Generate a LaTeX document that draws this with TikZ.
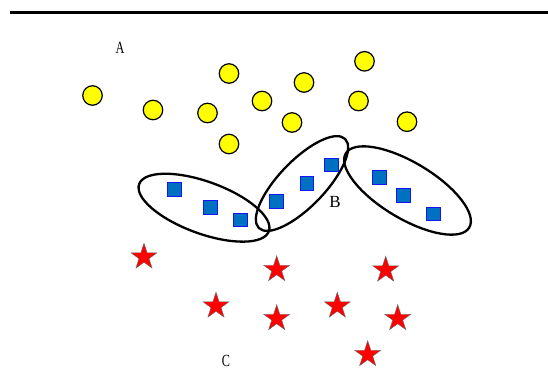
\documentclass[tikz,border=0pt]{standalone}
\usepackage{fontspec}
\setmainfont{Liberation Serif}
\usetikzlibrary{shapes.geometric}
\definecolor{sqfill}{RGB}{0,112,192}
\definecolor{sqedge}{RGB}{20,20,255}
\definecolor{starred}{RGB}{255,0,0}
\definecolor{dotyellow}{RGB}{255,255,0}
\begin{document}
\begin{tikzpicture}[x=1pt,y=-1pt,
  dot/.style={circle,draw=black,line width=1.2pt,fill=dotyellow,minimum size=19.5pt,inner sep=0},
  sq/.style={rectangle,draw=sqedge,line width=1pt,fill=sqfill,minimum size=13.5pt,inner sep=0},
  st/.style={star,star points=5,star point ratio=2.618,draw=black!60,line width=0.4pt,fill=starred,minimum size=27.5pt,inner sep=0},
  grp/.style={ellipse,draw=black,line width=2.3pt,inner sep=0},
  lbl/.style={font=\fontsize{17}{17}\selectfont,inner sep=0}]
\useasboundingbox (0,0) rectangle (548,369);
% top rule
\coordinate (l1) at (10,12.7);
\coordinate (l2) at (548,12.7);
\draw[line width=2.6pt] (l1) -- (l2);
% labels
\node[lbl] (la) at (120,48) {\scalebox{0.72}[1]{A}};
\node[lbl] (lb) at (335,202) {B};
\node[lbl] (lc) at (226,361) {\scalebox{0.72}[1]{C}};
% yellow circles
\node[dot] (y1) at (92.5,95.5) {};
\node[dot] (y2) at (153,110) {};
\node[dot] (y3) at (207.5,113) {};
\node[dot] (y4) at (229,73.5) {};
\node[dot] (y5) at (262,101) {};
\node[dot] (y6) at (292,122.5) {};
\node[dot] (y7) at (304,82.5) {};
\node[dot] (y8) at (229,144) {};
\node[dot] (y9) at (358.5,101) {};
\node[dot] (y10) at (364.5,61.3) {};
\node[dot] (y11) at (407,121.7) {};
% groups
\node[grp,minimum width=138pt,minimum height=52pt,rotate=-20] (e1) at (204,207.7) {};
\node[grp,minimum width=124pt,minimum height=46pt,rotate=46] (e2) at (302,183.5) {};
\node[grp,minimum width=144pt,minimum height=56pt,rotate=-31] (e3) at (407.5,190.5) {};
% squares
\node[sq] (s1) at (174.3,189.3) {};
\node[sq] (s2) at (210.7,207.7) {};
\node[sq] (s3) at (240.7,220) {};
\node[sq] (s4) at (276.7,201.7) {};
\node[sq] (s5) at (307,183.3) {};
\node[sq] (s6) at (331.3,165) {};
\node[sq] (s7) at (379.7,177.3) {};
\node[sq] (s8) at (403.7,195.7) {};
\node[sq] (s9) at (433.7,214) {};
% stars
\node[st] (r1) at (144,257) {};
\node[st] (r2) at (276.7,269.5) {};
\node[st] (r3) at (385.7,270) {};
\node[st] (r4) at (216,306) {};
\node[st] (r5) at (276.7,318.5) {};
\node[st] (r6) at (337.3,306) {};
\node[st] (r7) at (397.7,318.5) {};
\node[st] (r8) at (367.7,354.5) {};
\end{tikzpicture}
\end{document}
